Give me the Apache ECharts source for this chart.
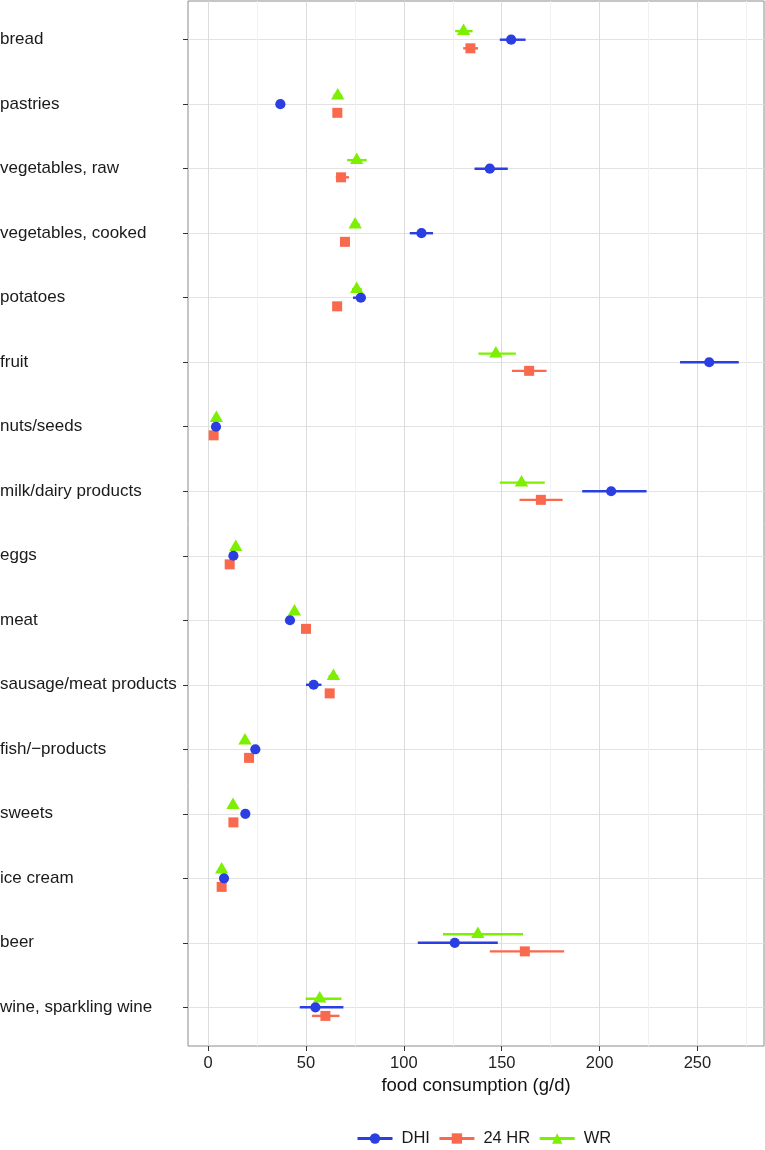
<!DOCTYPE html>
<html><head><meta charset="utf-8">
<script src="https://cdn.jsdelivr.net/npm/echarts@6/dist/echarts.min.js"></script>
<style>html,body{margin:0;padding:0;background:#fff}#c{width:765px;height:1150px}</style>
</head><body><div id="c"></div>
<script>
const categories = ['bread','pastries','vegetables, raw','vegetables, cooked','potatoes','fruit','nuts/seeds','milk/dairy products','eggs','meat','sausage/meat products','fish/\u2212products','sweets','ice cream','beer','wine, sparkling wine'];
const groups = ['DHI','24 HR','WR'];
const xTickLabels = [0,50,100,150,200,250];
const xMinorTicks = [25,75,125,175,225,275];

const dhiMean = [154.8, 36.9, 143.9, 109.0, 78.0, 256.0, 4.0, 205.9, 12.9, 41.8, 53.9, 24.1, 19.0, 8.1, 126.0, 54.8];
const dhiLow  = [149.0, 35.5, 136.1, 103.0, 74.0, 241.1, 3.0, 191.1, 12.0, 40.5, 50.0, 23.0, 18.0, 7.3, 107.1, 46.8];
const dhiHigh = [162.2, 38.5, 153.1, 114.9, 80.5, 271.1, 5.0, 224.0, 14.0, 43.5, 57.9, 25.3, 20.0, 9.0, 148.0, 69.1];

const hrMean = [134.0, 66.0, 67.9, 69.9, 65.9, 164.0, 2.8, 170.0, 11.0, 50.0, 62.1, 20.9, 12.9, 6.9, 161.8, 59.9];
const hrLow  = [130.3, 65.0, 65.2, 68.5, 64.8, 155.2, 2.0, 159.1, 10.2, 49.0, 60.5, 20.0, 12.0, 6.2, 143.9, 53.1];
const hrHigh = [137.9, 67.0, 72.0, 71.5, 67.0, 172.9, 3.6, 181.1, 11.8, 51.0, 63.8, 21.8, 13.8, 7.6, 181.9, 67.1];

const wrMean = [130.5, 66.2, 75.9, 75.1, 75.9, 147.0, 4.2, 160.1, 14.1, 44.1, 64.0, 18.8, 12.7, 6.9, 137.8, 57.0];
const wrLow  = [126.2, 64.0, 71.0, 73.0, 73.5, 138.1, 3.4, 149.0, 13.2, 43.0, 61.5, 17.8, 11.8, 6.2, 120.0, 49.8];
const wrHigh = [135.1, 68.5, 81.0, 77.5, 78.5, 157.2, 5.0, 172.0, 15.0, 45.3, 66.5, 19.8, 13.6, 7.6, 160.9, 68.1];

const COLORS = {'DHI':'#2B3EE2','24 HR':'#F8694D','WR':'#7CF000'};
const SHAPES = {'DHI':'circle','24 HR':'rect','WR':'triangle'};
const DODGE = {'DHI':0,'24 HR':0.1333,'WR':-0.1333};
const FONT = '"Liberation Sans", Arial, Helvetica, sans-serif';

const positions = categories.map((c,i)=>i+1);
function build(mean, low, high){ return categories.map((c,i)=>[mean[i], low[i], high[i], i+1]); }
const dataBy = {'DHI':build(dhiMean,dhiLow,dhiHigh),'24 HR':build(hrMean,hrLow,hrHigh),'WR':build(wrMean,wrLow,wrHigh)};

function barRender(g){
  return function(params, api){
    const y = api.value(3) + DODGE[g];
    const a = api.coord([api.value(1), y]);
    const b = api.coord([api.value(2), y]);
    return {type:'line', shape:{x1:a[0],y1:a[1],x2:b[0],y2:b[1]}, style:{stroke:COLORS[g], lineWidth:2.4}};
  };
}
function pointRender(g){
  return function(params, api){
    const p = api.coord([api.value(0), api.value(3) + DODGE[g]]);
    const cx = p[0], cy = p[1];
    if (SHAPES[g]==='circle') return {type:'circle', shape:{cx:cx, cy:cy, r:5.1}, style:{fill:COLORS[g]}};
    if (SHAPES[g]==='rect') return {type:'rect', shape:{x:cx-5, y:cy-5, width:10, height:10}, style:{fill:COLORS[g]}};
    return {type:'polygon', shape:{points:[[cx,cy-7.7],[cx+6.65,cy+3.85],[cx-6.65,cy+3.85]]}, style:{fill:COLORS[g]}};
  };
}

const series = [];
groups.forEach(g=>{
  series.push({type:'line', name:g, data:[], symbol:SHAPES[g], color:COLORS[g],
    itemStyle:{color:COLORS[g]}, lineStyle:{color:COLORS[g], width:3}});
});
groups.forEach(g=>{
  series.push({type:'custom', name:g, data:dataBy[g], renderItem:barRender(g), encode:{x:[0,1,2], y:3}, color:COLORS[g], z:2, silent:true});
});
['WR','24 HR','DHI'].forEach(g=>{
  series.push({type:'custom', name:g, data:dataBy[g], renderItem:pointRender(g), encode:{x:[0,1,2], y:3}, color:COLORS[g], z:3, silent:true});
});

const chart = echarts.init(document.getElementById('c'), null, {renderer:'canvas'});
chart.setOption({
  animation:false,
  backgroundColor:'#ffffff',
  textStyle:{fontFamily:FONT},
  grid:{left:188, top:1, width:576, height:1045, show:true, borderColor:'#8c8c8c', borderWidth:1, backgroundColor:'transparent', containLabel:false, outerBoundsMode:'none'},
  xAxis:[{
    type:'value', min:-10.3, max:284,
    axisLine:{show:false, onZero:false},
    axisTick:{show:true, length:5, customValues:xTickLabels, lineStyle:{color:'#333', width:1}},
    axisLabel:{customValues:xTickLabels, fontSize:16.5, color:'#222', margin:9, fontFamily:FONT},
    splitLine:{show:true, lineStyle:{color:'#dcdcdc', width:1}},
    minorSplitLine:{show:false},
    name:'food consumption (g/d)', nameLocation:'middle', nameGap:28,
    nameTextStyle:{fontSize:18.5, color:'#111', fontFamily:FONT}
  },{
    type:'value', min:-10.3, max:284, position:'bottom',
    axisLine:{show:false, onZero:false},
    axisTick:{show:false, customValues:xMinorTicks},
    axisLabel:{show:false, customValues:xMinorTicks},
    splitLine:{show:true, lineStyle:{color:'#f1f1f1', width:1}}
  }],
  yAxis:{
    type:'value', inverse:true, min:0.4, max:16.6, position:'left',
    axisLine:{show:false, onZero:false},
    axisTick:{show:true, length:5, customValues:positions, lineStyle:{color:'#333', width:1}},
    axisLabel:{customValues:positions, formatter:v=>categories[Math.round(v)-1], align:'left', margin:188, fontSize:17, color:'#1a1a1a', fontFamily:FONT},
    splitLine:{show:true, lineStyle:{color:'#e3e3e3', width:1}}
  },
  legend:{data:groups, left:351, top:1125, itemWidth:35, itemHeight:13, itemGap:8, selectedMode:false,
    lineStyle:{width:3}, 
    textStyle:{fontSize:16.5, color:'#1a1a1a', fontFamily:FONT, padding:[0,0,0,4]}},
  series:series
});
</script></body></html>
